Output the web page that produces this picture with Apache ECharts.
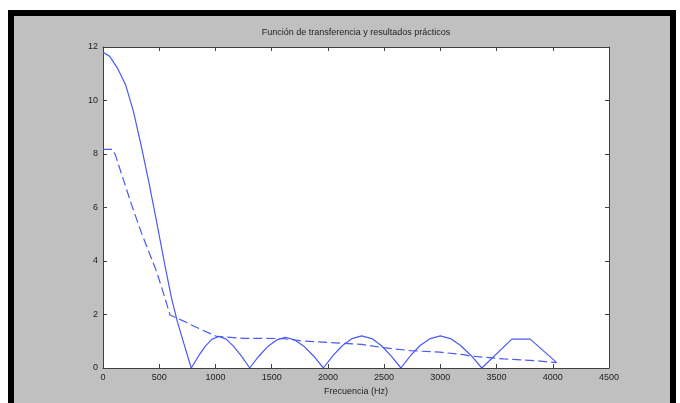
<!DOCTYPE html>
<html>
<head>
<meta charset="utf-8">
<script src="https://cdn.jsdelivr.net/npm/echarts@6/dist/echarts.min.js"></script>
<style>
html,body{margin:0;padding:0;background:#fff;}
#c{width:680px;height:403px;}
</style>
</head>
<body>
<div id="c"></div>
<script>
const titleText = 'Función de transferencia y resultados prácticos';
const xName = 'Frecuencia (Hz)';
const xTicks = [0, 500, 1000, 1500, 2000, 2500, 3000, 3500, 4000, 4500];
const yTicks = [0, 2, 4, 6, 8, 10, 12];

const freqSolid = [0, 60, 130, 200, 270, 340, 410, 480, 550, 610, 660, 720, 785,
  850, 910, 970, 1030, 1095, 1160, 1230, 1305,
  1385, 1465, 1545, 1620, 1705, 1790, 1875, 1960,
  2045, 2130, 2215, 2300, 2390, 2475, 2560, 2650,
  2735, 2820, 2910, 3000, 3090, 3180, 3275, 3369,
  3636, 3799, 4036];
const magSolid = [11.8, 11.65, 11.2, 10.6, 9.6, 8.3, 6.9, 5.4, 3.85, 2.6, 1.75, 0.9, 0,
  0.45, 0.82, 1.08, 1.18, 1.08, 0.82, 0.45, 0,
  0.44, 0.8, 1.05, 1.15, 1.05, 0.8, 0.44, 0,
  0.46, 0.84, 1.1, 1.2, 1.1, 0.84, 0.46, 0,
  0.46, 0.84, 1.1, 1.2, 1.1, 0.84, 0.46, 0,
  1.08, 1.08, 0.2];

const freqDash = [0, 85, 110, 255, 344, 477, 552, 596, 745, 819, 1011, 1249, 1600, 1753, 2020, 2301, 2494, 2731, 2998, 3206, 3265, 3562, 3858, 4030];
const magDash = [8.17, 8.17, 7.96, 6.09, 5.03, 3.6, 2.6, 1.98, 1.7, 1.54, 1.18, 1.11, 1.1, 1.02, 0.95, 0.88, 0.76, 0.65, 0.59, 0.5, 0.45, 0.34, 0.27, 0.2];

const solidData = freqSolid.map((f, i) => [f, magSolid[i]]);
const dashData = freqDash.map((f, i) => [f, magDash[i]]);

const lineColor = '#4a5af2';
const axisColor = '#404040';
const textColor = '#222';
const fontFamily = '"Liberation Sans", Arial, sans-serif';

const chart = echarts.init(document.getElementById('c'), null, {renderer: 'canvas'});
const xMin = xTicks[0], xMax = xTicks[xTicks.length - 1];
const yMin = yTicks[0], yMax = yTicks[yTicks.length - 1];

function xAxisCfg(pos, showLabels) {
  return {
    type: 'value', position: pos, min: xMin, max: xMax, interval: xTicks[1] - xTicks[0],
    axisLine: {show: true, onZero: false, lineStyle: {color: axisColor, width: 1}},
    axisTick: {show: true, inside: true, length: 4, lineStyle: {color: axisColor}},
    axisLabel: {show: showLabels, fontSize: 9, color: textColor, fontFamily: fontFamily, margin: 5,
      formatter: v => String(v)},
    splitLine: {show: false},
    name: showLabels ? xName : '', nameLocation: 'middle', nameGap: 19,
    nameTextStyle: {fontSize: 9, color: textColor, fontFamily: fontFamily}
  };
}
function yAxisCfg(pos, showLabels) {
  return {
    type: 'value', position: pos, min: yMin, max: yMax, interval: yTicks[1] - yTicks[0],
    axisLine: {show: true, onZero: false, lineStyle: {color: axisColor, width: 1}},
    axisTick: {show: true, inside: true, length: 4, lineStyle: {color: axisColor}},
    axisLabel: {show: showLabels, fontSize: 9, color: textColor, fontFamily: fontFamily, margin: 5,
      formatter: v => String(v)},
    splitLine: {show: false}
  };
}

chart.setOption({
  backgroundColor: '#ffffff',
  animation: false,
  graphic: [
    {type: 'rect', z: -10, shape: {x: 11, y: 13, width: 662, height: 410},
     style: {fill: '#c0c0c0', stroke: '#000', lineWidth: 6}},
    {type: 'text', z: 10, x: 356, y: 33,
     style: {text: titleText, fontSize: 9, fill: textColor, fontFamily: fontFamily, textAlign: 'center', textVerticalAlign: 'middle'}}
  ],
  grid: {left: 103, top: 47, width: 506, height: 321, show: true, backgroundColor: '#ffffff', borderWidth: 0},
  xAxis: [xAxisCfg('bottom', true), xAxisCfg('top', false)],
  yAxis: [yAxisCfg('left', true), yAxisCfg('right', false)],
  series: [
    {type: 'line', data: solidData, showSymbol: false, xAxisIndex: 0, yAxisIndex: 0,
     lineStyle: {color: lineColor, width: 1.2}},
    {type: 'line', data: dashData, showSymbol: false, xAxisIndex: 0, yAxisIndex: 0,
     lineStyle: {color: lineColor, width: 1.2, type: [9, 4]}}
  ]
});
</script>
</body>
</html>
